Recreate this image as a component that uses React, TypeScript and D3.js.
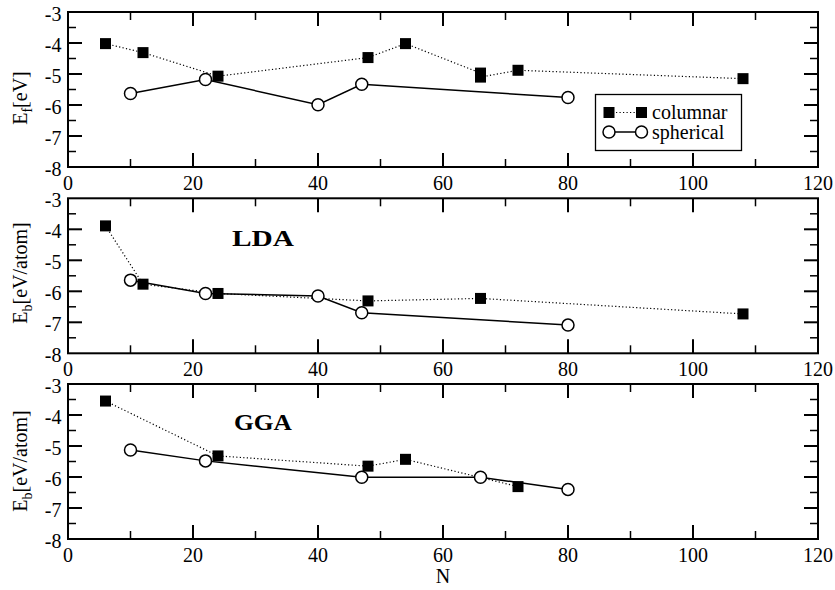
import React from "react";
import * as d3 from "d3";

// ---------- data ----------
// Panel 1: formation energy E_f [eV]
const efColN = [6, 12, 24, 48, 54, 66, 66, 72, 108];
const efColV = [-4.02, -4.31, -5.07, -4.47, -4.02, -4.97, -5.1, -4.88, -5.15];
const efSphN = [10, 22, 40, 47, 80];
const efSphV = [-5.63, -5.18, -5.99, -5.33, -5.76];

// Panel 2: LDA binding energy
const ldaColN = [6, 12, 24, 48, 66, 108];
const ldaColV = [-3.89, -5.77, -6.07, -6.31, -6.23, -6.73];
const ldaSphN = [10, 22, 40, 47, 80];
const ldaSphV = [-5.64, -6.07, -6.15, -6.69, -7.09];

// Panel 3: GGA binding energy
const ggaColN = [6, 24, 48, 54, 72];
const ggaColV = [-3.55, -5.32, -5.65, -5.43, -6.31];
const ggaSphN = [10, 22, 47, 66, 80];
const ggaSphV = [-5.13, -5.48, -6.01, -6.01, -6.4];

const xTicks = [0, 20, 40, 60, 80, 100, 120];
const xMinor = [10, 30, 50, 70, 90, 110];
const yTicks = [-3, -4, -5, -6, -7, -8];
const yMinor = [-3.5, -4.5, -5.5, -6.5, -7.5];

const seriesNames = ["columnar", "spherical"];

// ---------- layout ----------
const W = 835;
const H = 590;
const left = 68;
const right = 818;
const panelTops = [12, 198.3, 384];
const panelH = 155;
const FONT = '"Liberation Serif", "Times New Roman", Times, serif';
const fs = (size: number, extra: React.CSSProperties = {}): React.CSSProperties => ({
  fontFamily: FONT,
  fontSize: size,
  ...extra,
});

const x = d3.scaleLinear().domain([0, 120]).range([left, right]);

type PanelProps = {
  top: number;
  colN: number[];
  colV: number[];
  sphN: number[];
  sphV: number[];
  sub: string;
  unit: string;
  labelCenter: number;
  tag?: string;
  tagX?: number;
  tagY?: number;
  tagW?: number;
  legend?: boolean;
};

function Panel(p: PanelProps) {
  const y = d3.scaleLinear().domain([-8, -3]).range([p.top + panelH, p.top]);
  const bottom = p.top + panelH;
  const colPts: [number, number][] = p.colN.map((n, i) => [x(n), y(p.colV[i])]);
  const sphPts: [number, number][] = p.sphN.map((n, i) => [x(n), y(p.sphV[i])]);
  const line = d3.line();
  const sq = 11;
  const r = 6;
  return (
    <g>
      <path d={line(colPts) || ""} fill="none" stroke="#000" strokeWidth={1.2} strokeDasharray="1.2,2.3" />
      <path d={line(sphPts) || ""} fill="none" stroke="#000" strokeWidth={1.5} />
      {colPts.map((c, i) => (
        <rect key={"c" + i} x={c[0] - sq / 2} y={c[1] - sq / 2} width={sq} height={sq} fill="#000" />
      ))}
      {sphPts.map((c, i) => (
        <circle key={"s" + i} cx={c[0]} cy={c[1]} r={r} fill="#fff" stroke="#000" strokeWidth={1.5} />
      ))}
      <rect x={left} y={p.top} width={right - left} height={panelH} fill="none" stroke="#000" strokeWidth={2} />
      {xTicks.map((t) => (
        <g key={"xt" + t}>
          {t > 0 && t < 120 && (
            <>
              <line x1={x(t)} x2={x(t)} y1={bottom} y2={bottom - 14} stroke="#000" strokeWidth={2} />
              <line x1={x(t)} x2={x(t)} y1={p.top} y2={p.top + 14} stroke="#000" strokeWidth={2} />
            </>
          )}
          <text x={x(t)} y={bottom + 22.8} textAnchor="middle" style={fs(20)}>
            {t}
          </text>
        </g>
      ))}
      {xMinor.map((t) => (
        <g key={"xm" + t}>
          <line x1={x(t)} x2={x(t)} y1={bottom} y2={bottom - 8} stroke="#000" strokeWidth={1.5} />
          <line x1={x(t)} x2={x(t)} y1={p.top} y2={p.top + 8} stroke="#000" strokeWidth={1.5} />
        </g>
      ))}
      {yTicks.map((t) => (
        <g key={"yt" + t}>
          {t > -8 && t < -3 && (
            <>
              <line x1={left} x2={left + 14} y1={y(t)} y2={y(t)} stroke="#000" strokeWidth={2} />
              <line x1={right} x2={right - 14} y1={y(t)} y2={y(t)} stroke="#000" strokeWidth={2} />
            </>
          )}
          <text x={61.5} y={y(t) + 8.5} textAnchor="end" style={fs(20)}>
            {t}
          </text>
        </g>
      ))}
      {yMinor.map((t) => (
        <g key={"ym" + t}>
          <line x1={left} x2={left + 8} y1={y(t)} y2={y(t)} stroke="#000" strokeWidth={1.5} />
          <line x1={right} x2={right - 8} y1={y(t)} y2={y(t)} stroke="#000" strokeWidth={1.5} />
        </g>
      ))}
      <text transform={`translate(27,${p.labelCenter}) rotate(-90)`} textAnchor="middle" style={fs(20)}>
        E
        <tspan dy={5} style={fs(14)}>
          {p.sub}
        </tspan>
        <tspan dy={-5}>{p.unit}</tspan>
      </text>
      {p.tag && (
        <text
          x={(p.tagX || 0) - (p.tagW || 0) / 2}
          y={p.tagY}
          textLength={p.tagW}
          lengthAdjust="spacingAndGlyphs"
          style={fs(24, { fontWeight: "bold" })}
        >
          {p.tag}
        </text>
      )}
      {p.legend && (
        <g>
          <rect x={595.5} y={94.5} width={146} height={56} fill="#fff" stroke="#000" strokeWidth={1.3} />
          <line x1={609} x2={641.5} y1={112.5} y2={112.5} stroke="#000" strokeWidth={1.2} strokeDasharray="1.2,2.3" />
          <rect x={609 - sq / 2} y={112.5 - sq / 2} width={sq} height={sq} fill="#000" />
          <rect x={641.5 - sq / 2} y={112.5 - sq / 2} width={sq} height={sq} fill="#000" />
          <text x={652} y={118.5} style={fs(20)}>
            {seriesNames[0]}
          </text>
          <line x1={609} x2={641.5} y1={132} y2={132} stroke="#000" strokeWidth={1.5} />
          <circle cx={609} cy={132} r={r} fill="#fff" stroke="#000" strokeWidth={1.5} />
          <circle cx={641.5} cy={132} r={r} fill="#fff" stroke="#000" strokeWidth={1.5} />
          <text x={652} y={138.5} style={fs(20)}>
            {seriesNames[1]}
          </text>
        </g>
      )}
    </g>
  );
}

export default function App() {
  return (
    <svg
      width={W}
      height={H}
      viewBox={`0 0 ${W} ${H}`}
      style={{ position: "absolute", left: 0, top: 0, background: "#fff" }}
    >
      <rect x={0} y={0} width={W} height={H} fill="#fff" />
      <Panel top={panelTops[0]} colN={efColN} colV={efColV} sphN={efSphN} sphV={efSphV} sub="f" unit="[eV]" labelCenter={98} legend />
      <Panel
        top={panelTops[1]}
        colN={ldaColN}
        colV={ldaColV}
        sphN={ldaSphN}
        sphV={ldaSphV}
        sub="b"
        unit="[eV/atom]"
        labelCenter={273}
        tag="LDA"
        tagX={263}
        tagY={246}
        tagW={62}
      />
      <Panel
        top={panelTops[2]}
        colN={ggaColN}
        colV={ggaColV}
        sphN={ggaSphN}
        sphV={ggaSphV}
        sub="b"
        unit="[eV/atom]"
        labelCenter={461}
        tag="GGA"
        tagX={263}
        tagY={429.5}
        tagW={58}
      />
      <text x={443} y={583} textAnchor="middle" style={fs(20)}>
        N
      </text>
    </svg>
  );
}
